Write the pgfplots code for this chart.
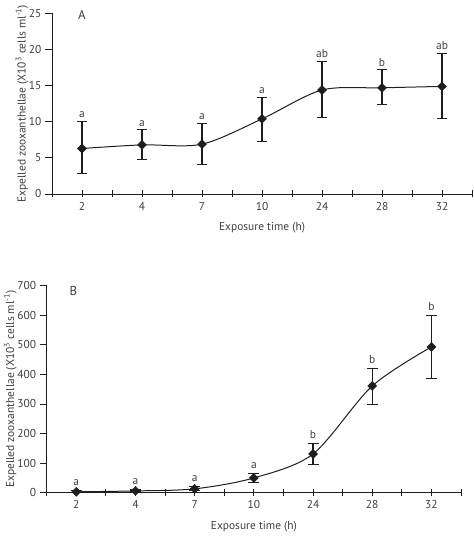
\documentclass[border=0pt]{standalone}
\usepackage{fontspec}
\setmainfont{PT Sans}
\usepackage{pgfplots}
\pgfplotsset{compat=1.18}
\usepackage{pgfplotstable}
\definecolor{txt}{HTML}{404040}
\definecolor{ln}{HTML}{1E1E1E}

\pgfplotstableread{
x y ep em lab
0 6.3 3.8 3.5 a
1 6.8 2.1 2.0 a
2 6.9 2.9 2.8 a
3 10.4 3.0 3.1 a
4 14.4 4.0 3.8 ab
5 14.7 2.5 2.3 b
6 14.9 4.6 4.5 ab
}\dataA
\pgfplotstableread{
x y ep em lab
0 3 3 3 a
1 6 3 3 a
2 13 8 7 a
3 50 15 15 a
4 131 36 37 b
5 361 58 63 b
6 493 106 107 b
}\dataB

\pgfplotsset{
  common/.style={
    scale only axis,
    axis x line=bottom, axis y line=left,
    axis line style={-, ln, line width=0.8pt},
    xmin=-0.5, xmax=6.5,
    xtick={0,...,6},
    xticklabels={2,4,7,10,24,28,32},
    minor xtick={-0.5,0.5,...,6.5},
    xtick align=center,
    ytick align=outside,
    tick style={ln, line width=0.8pt},
    major tick length=7bp, minor tick length=7bp,
    tick label style={font=\fontsize{11.5}{12}\selectfont, text=txt},
    xticklabel style={yshift=-1bp},
    label style={font=\fontsize{11.5}{12}\selectfont, text=txt},
    xlabel={Exposure time (h)},
    ylabel={Expelled zooxanthellae (X10\textsuperscript{3} cells ml\textsuperscript{-1})},
    /pgf/number format/assume math mode=true,
    clip=false,
  },
  dataline/.style={ln, line width=1pt, smooth, mark=square*, mark size=3.2pt,
    mark options={fill=ln, draw=ln, line width=0.4pt, rotate=45},
    error bars/.cd, y dir=both, y explicit,
    error bar style={ln, line width=1.1pt}, error mark options={rotate=90, mark size=5.5pt, ln, line width=1.1pt}},
  labs/.style={draw=none, mark=none, only marks, nodes near coords, point meta=explicit symbolic,
    every node near coord/.append style={font=\fontsize{11.5}{12}\selectfont, text=txt, anchor=south, inner sep=#1}},
}

\begin{document}
\begin{tikzpicture}[x=1bp,y=1bp]
\useasboundingbox (0,0) rectangle (474,543);
\begin{axis}[common,
  at={(52bp,349bp)}, anchor=south west,
  width=420bp, height=180.5bp,
  ymin=0, ymax=25, ytick={0,5,...,25},
  xlabel style={yshift=-5bp},
  ylabel style={yshift=-6bp},
]
\addplot+[dataline] table[x=x, y=y, y error plus=ep, y error minus=em] {\dataA};
\addplot[labs=3bp] table[x=x, y expr=\thisrow{y}+\thisrow{ep}, meta=lab] {\dataA};
\node[font=\fontsize{13}{14}\selectfont, text=txt] at (axis cs:0,24.8) {A};
\end{axis}

\begin{axis}[common,
  at={(46.7bp,50.3bp)}, anchor=south west,
  width=414.3bp, height=207bp,
  ymin=0, ymax=700, ytick={0,100,...,700},
  xlabel style={yshift=-5bp},
  ylabel style={yshift=-6bp},
]
\addplot+[dataline] table[x=x, y=y, y error plus=ep, y error minus=em] {\dataB};
\addplot[labs=5bp] table[x=x, y expr=\thisrow{y}+\thisrow{ep}, meta=lab] {\dataB};
\node[font=\fontsize{13}{14}\selectfont, text=txt] at (axis cs:-0.05,683) {B};
\end{axis}
\end{tikzpicture}
\end{document}
